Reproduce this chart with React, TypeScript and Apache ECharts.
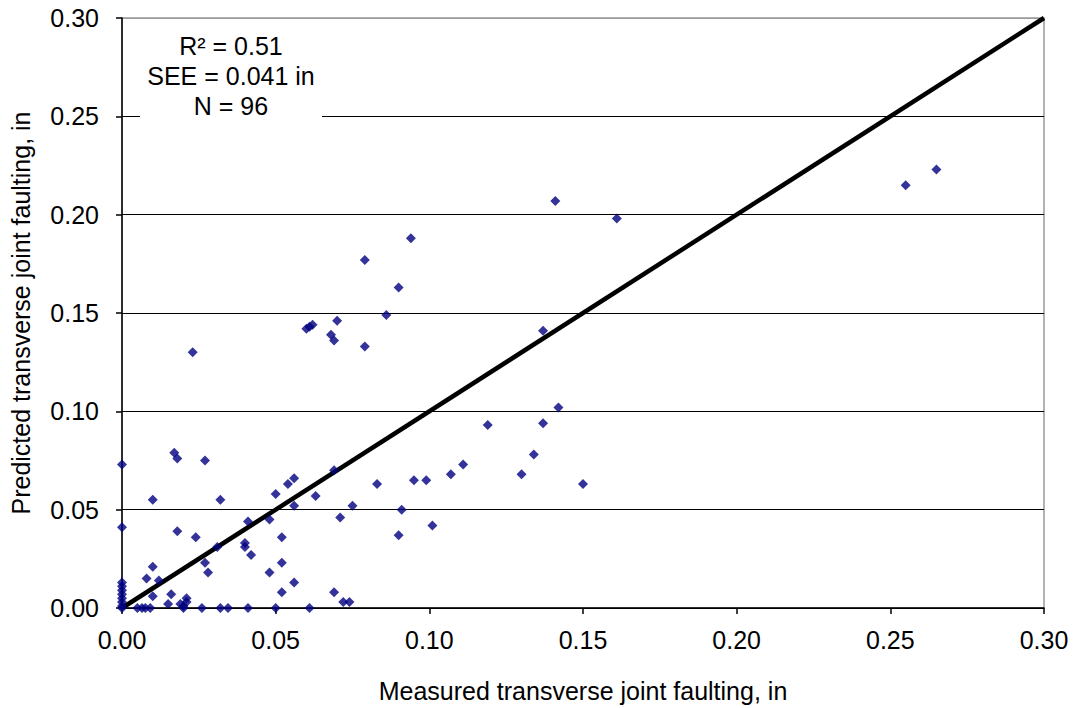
import React, { useEffect, useRef } from "react";
import * as echarts from "echarts";

// Measured vs. predicted transverse joint faulting (in)
const measured: number[] = [
  0, 0, 0, 0, 0, 0, 0, 0, 0, 0,
  0.017, 0.018, 0.027, 0.050,
  0.010, 0.032, 0.041, 0.048, 0.018, 0.024, 0.031, 0.040, 0.040, 0.042,
  0.027, 0.028, 0.048, 0.010, 0.008, 0.012, 0.010, 0.016, 0.015, 0.021,
  0.019, 0.020, 0.021, 0.020, 0.005, 0.0065, 0.0076, 0.0092, 0.026, 0.032,
  0.0345, 0.041, 0.050,
  0.056, 0.054, 0.069, 0.063, 0.056, 0.075, 0.071, 0.083, 0.095, 0.099,
  0.091, 0.090, 0.101, 0.052, 0.052, 0.056, 0.052, 0.069, 0.072, 0.074, 0.061,
  0.023, 0.060, 0.061, 0.062, 0.070, 0.068, 0.069, 0.079, 0.086,
  0.094, 0.079, 0.090,
  0.142, 0.137, 0.119, 0.134, 0.111, 0.107, 0.130, 0.150,
  0.141, 0.161, 0.137,
  0.265, 0.255,
];
const predicted: number[] = [
  0.073, 0.041, 0.013, 0.011, 0.009, 0.007, 0.005, 0.003, 0.001, 0.000,
  0.079, 0.076, 0.075, 0.058,
  0.055, 0.055, 0.044, 0.045, 0.039, 0.036, 0.031, 0.033, 0.031, 0.027,
  0.023, 0.018, 0.018, 0.021, 0.015, 0.014, 0.006, 0.007, 0.002, 0.005,
  0.002, 0.001, 0.003, 0.000, 0.000, 0.000, 0.000, 0.000, 0.000, 0.000,
  0.000, 0.000, 0.000,
  0.066, 0.063, 0.070, 0.057, 0.052, 0.052, 0.046, 0.063, 0.065, 0.065,
  0.050, 0.037, 0.042, 0.036, 0.023, 0.013, 0.008, 0.008, 0.003, 0.003, 0.000,
  0.130, 0.142, 0.143, 0.144, 0.146, 0.139, 0.136, 0.133, 0.149,
  0.188, 0.177, 0.163,
  0.102, 0.094, 0.093, 0.078, 0.073, 0.068, 0.068, 0.063,
  0.207, 0.198, 0.141,
  0.223, 0.215,
];

const axisTicks = [0, 0.05, 0.1, 0.15, 0.2, 0.25, 0.3];
const statLines = ["R\u00b2 = 0.51", "SEE = 0.041 in", "N = 96"];
const xTitle = "Measured transverse joint faulting, in";
const yTitle = "Predicted transverse joint faulting, in";

const FONT = "Liberation Sans, Arial, sans-serif";
const FS = 25;

export default function App() {
  const ref = useRef<HTMLDivElement>(null);

  useEffect(() => {
    document.body.style.margin = "0";
    if (!ref.current) return;
    const chart = echarts.init(ref.current, undefined, { renderer: "svg" });
    const points = measured.map((m, i) => [m, predicted[i]]);
    const lo = axisTicks[0];
    const hi = axisTicks[axisTicks.length - 1];
    const step = axisTicks[1] - axisTicks[0];

    const axisCommon = {
      type: "value" as const,
      min: lo,
      max: hi,
      interval: step,
      nameLocation: "middle" as const,
      nameTextStyle: { fontFamily: FONT, fontSize: FS, color: "#000" },
      axisLine: { show: true, onZero: false, lineStyle: { color: "#000", width: 1.5 } },
      axisTick: { show: true, length: 6, lineStyle: { color: "#000", width: 1.5 } },
      axisLabel: {
        fontFamily: FONT,
        fontSize: FS,
        color: "#000",
        formatter: (v: number) => v.toFixed(2),
      },
    };

    chart.setOption({
      animation: false,
      backgroundColor: "#fff",
      grid: {
        left: 122,
        right: 32,
        top: 18,
        bottom: 100,
        show: true,
        borderColor: "#999",
        borderWidth: 1.5,
        backgroundColor: "#fff",
      },
      xAxis: {
        ...axisCommon,
        name: xTitle,
        nameGap: 70,
        axisLabel: { ...axisCommon.axisLabel, margin: 19 },
        splitLine: { show: false },
      },
      yAxis: {
        ...axisCommon,
        name: yTitle,
        nameGap: 89,
        axisLabel: { ...axisCommon.axisLabel, margin: 23 },
        splitLine: {
          show: true,
          lineStyle: {
            color: ["#000", "#000", "#000", "#000", "#000", "#000", "#999"],
            width: 1.2,
          },
        },
      },
      series: [
        {
          type: "line",
          data: [
            [lo, lo],
            [hi, hi],
          ],
          symbol: "none",
          lineStyle: { color: "#000", width: 4.5 },
          silent: true,
          z: 2,
        },
        {
          type: "scatter",
          data: points,
          symbol: "diamond",
          symbolSize: 10,
          itemStyle: { color: "#000080" },
          z: 3,
        },
      ],
      graphic: [
        {
          type: "rect",
          z: 100,
          shape: { x: 140, y: 26, width: 182, height: 100 },
          style: { fill: "#fff" },
        },
        ...statLines.map((t, i) => ({
          type: "text",
          z: 101,
          x: 231,
          y: 46 + i * 30,
          style: {
            text: t,
            fontFamily: FONT,
            fontSize: FS,
            fill: "#000",
            align: "center",
            verticalAlign: "middle",
          },
        })),
      ],
    });

    return () => chart.dispose();
  }, []);

  return (
    <div
      ref={ref}
      style={{ position: "absolute", left: 0, top: 0, width: 1076, height: 708 }}
    />
  );
}
